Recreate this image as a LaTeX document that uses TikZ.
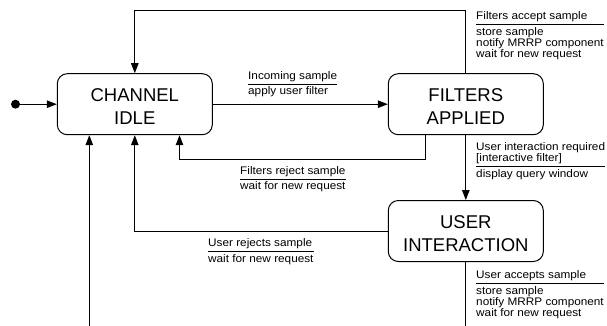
\documentclass[tikz,border=0pt]{standalone}
\usepackage{fontspec}
\setmainfont{Liberation Sans}
\newfontfamily\lblfamily[FakeStretch=1.07]{Liberation Sans}
\usetikzlibrary{arrows.meta}
\setlength\arrayrulewidth{0.8pt}
% transition label: event/guard above the bar, actions below it
\newcommand\trans[2]{{\renewcommand\arraystretch{1}%
  \begin{tabular}[t]{@{}l@{}}#1\\[1.5pt]\hline\rule{0pt}{10.5pt}#2\end{tabular}}}
\begin{document}
\begin{tikzpicture}[x=1pt,y=-1pt,
  state/.style={draw,line width=1pt,rounded corners=10pt,minimum width=155pt,
    minimum height=61pt,align=center,inner sep=0pt,text height=40pt,text depth=0pt,
    font=\fontsize{18.5}{23}\selectfont},
  conn/.style={line width=1pt},
  tr/.style={conn,-{Triangle[length=10pt,width=7.5pt]}},
  lbl/.style={anchor=base west,inner sep=0pt,font=\lblfamily\fontsize{11}{10.4}\selectfont}]
\useasboundingbox (0,0) rectangle (607,325);

% states
\node[state] (idle) at (134.8,104.2) {CHANNEL\\IDLE};
\node[state] (filt) at (465.8,104.2) {FILTERS\\APPLIED};
\node[state] (user) at (465.8,231) {USER\\INTERACTION};
\node[circle,fill,inner sep=0pt,minimum size=9pt] (init) at (15.5,104.2) {};

% helper points for the routed connectors
\coordinate (topy) at (0,10);
\coordinate (rj) at (425,159);
\coordinate (bot) at (0,332);

% transitions
\draw[tr] (init) -- (idle.west);
\draw[tr] (idle.east) -- (filt.west);
\draw[tr] (filt.north) |- (idle.north |- topy) -- (idle.north);
\draw[tr] (filt.south -| rj) -- (rj) -| ([xshift=44.7pt]idle.south);
\draw[tr] (filt.south) -- (user.north);
\draw[tr] (user.west) -| (idle.south);
\draw[conn] (user.south) -- (user.south |- bot);
\draw[tr] ([xshift=-45.5pt]idle.south |- bot) -- ([xshift=-45.5pt]idle.south);

% transition labels
\node[lbl] (l1) at (476,19.5) {\trans{Filters accept sample}{store sample\\notify MRRP component\\wait for new request}};
\node[lbl] (l2) at (248,79) {\trans{Incoming sample}{apply user filter}};
\node[lbl] (l3) at (240,174) {\trans{Filters reject sample}{wait for new request}};
\node[lbl] (l4) at (476,150.5) {\trans{User interaction required\\{}[interactive filter]}{display query window}};
\node[lbl] (l5) at (208,246.5) {\trans{User rejects sample}{wait for new request}};
\node[lbl] (l6) at (476,278.5) {\trans{User accepts sample}{store sample\\notify MRRP component\\wait for new request}};
\end{tikzpicture}
\end{document}
